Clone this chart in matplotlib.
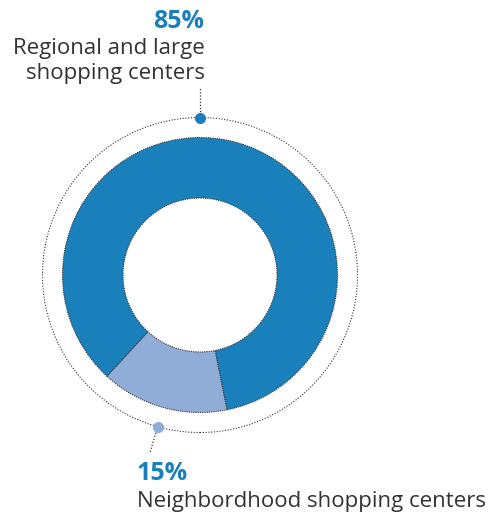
import numpy as np
import matplotlib.pyplot as plt
from matplotlib.patches import Circle

labels = ['Neighbordhood shopping centers', 'Regional and large\nshopping centers']
shares = [15, 85]
pct_labels = ['15%', '85%']
colors = ['#8fadd6', '#1a80bb']

W, H = 489, 512
fig = plt.figure(figsize=(W / 100, H / 100), dpi=100)
ax = fig.add_axes([0, 0, 1, 1])

cx, cy = 200, H - 275
r_out, r_in, r_ring = 137.5, 77, 157.5
start = -132.6

ax.pie(shares, colors=colors, startangle=start, counterclock=True,
       center=(cx, cy), radius=r_out,
       wedgeprops=dict(width=r_out - r_in, edgecolor='#333333',
                       linestyle=(0, (1, 1)), linewidth=0.8))

ax.add_patch(Circle((cx, cy), r_ring, fill=False, edgecolor='#333333',
                    linestyle=(0, (1, 1.5)), linewidth=0.8))

# markers on the outer ring
a_small = np.deg2rad(start + shares[0] / 100 * 360 / 2)
a_top = np.deg2rad(90)
bx, by = cx + r_ring * np.cos(a_small), cy + r_ring * np.sin(a_small)
tx, ty = cx + r_ring * np.cos(a_top), cy + r_ring * np.sin(a_top)

ax.plot([tx, tx], [ty, ty + 30], ls=(0, (1, 1.5)), color='#333333', lw=0.9)
ax.plot([bx, bx - 8], [by, by - 27], ls=(0, (1, 1.5)), color='#333333', lw=0.9)
ax.plot(tx, ty, 'o', ms=8, color=colors[1], mec='none')
ax.plot(bx, by, 'o', ms=8, color=colors[0], mec='none')

fam = ['Open Sans', 'DejaVu Sans']
ax.text(204, H - 21, pct_labels[1], ha='right', va='center', fontsize=18,
        fontweight='bold', color='#1a80bb', family=fam)
ax.text(205, H - 61, labels[1], ha='right', va='center', fontsize=16,
        color='#333333', family=fam, linespacing=1.2)
ax.text(137, H - 473, pct_labels[0], ha='left', va='center', fontsize=18,
        fontweight='bold', color='#1a80bb', family=fam)
ax.text(137, H - 501, labels[0], ha='left', va='center', fontsize=16,
        color='#333333', family=fam)

ax.set_xlim(0, W)
ax.set_ylim(0, H)
ax.set_aspect('equal')
ax.axis('off')

fig.savefig('out.png', dpi=100)
